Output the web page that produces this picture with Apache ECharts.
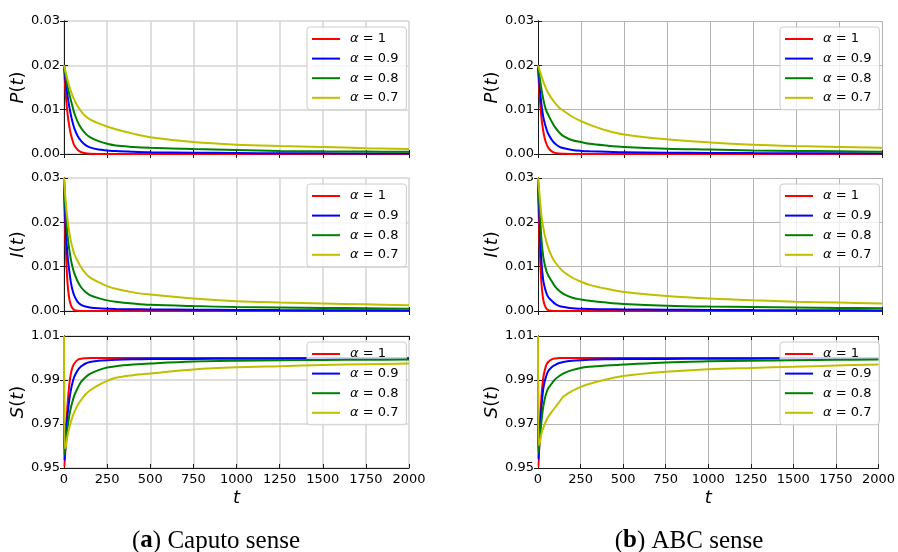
<!DOCTYPE html>
<html><head><meta charset="utf-8">
<script src="https://cdn.jsdelivr.net/npm/echarts@6/dist/echarts.min.js"></script>
<style>html,body{margin:0;padding:0;background:#fff}#c{width:898px;height:552px}</style>
</head><body><div id="c"></div><script>
// ---------- data ----------
const tValues = [0,3,10,20,30,40,50,60,80,100,125,150,200,250,300,400,500,750,1000,1250,1500,1750,2000];
const seriesNames = ['α = 1','α = 0.9','α = 0.8','α = 0.7'];
const seriesColors = ['#ff0000','#0000ff','#008000','#bfbf00'];
const panelCaptions = ['a','b'];
const panelCaptionText = ['Caputo sense','ABC sense'];
const yNames = ['P','I','S'];
const xTickLabels = ['0','250','500','750','1000','1250','1500','1750','2000'];
const pTickLabels = ['0.00','0.01','0.02','0.03'];
const sTickLabels = ['0.95','0.97','0.99','1.01'];

const P_caputo_a1  = [0.02,0.018,0.0135,0.0093,0.0064,0.0044,0.003,0.0019,0.0009,0.0004,0.00015,0.00006,0.00001,0,0,0,0,0,0,0,0,0,0];
const P_caputo_a09 = [0.02,0.019,0.0162,0.0132,0.0108,0.0088,0.0071,0.0058,0.004,0.0029,0.002,0.0015,0.001,0.0008,0.00065,0.0005,0.0004,0.0003,0.00022,0.00018,0.00015,0.00013,0.00012];
const P_caputo_a08 = [0.02,0.0193,0.0175,0.0153,0.0136,0.0121,0.0106,0.0092,0.0072,0.0058,0.0046,0.0038,0.0029,0.0023,0.0019,0.0016,0.0014,0.0011,0.0009,0.0007,0.0006,0.00055,0.0005];
const P_caputo_a07 = [0.02,0.0195,0.0184,0.0168,0.0154,0.0142,0.0131,0.0122,0.0107,0.0096,0.0085,0.0078,0.0069,0.0062,0.0056,0.0046,0.0038,0.0027,0.0021,0.0018,0.0016,0.0013,0.0011];

const P_abc_a1  = [0.02,0.0175,0.0128,0.0082,0.0053,0.0034,0.0022,0.0014,0.0006,0.00025,0.0001,0.00003,0,0,0,0,0,0,0,0,0,0,0];
const P_abc_a09 = [0.02,0.0185,0.0152,0.0112,0.0085,0.0068,0.0055,0.0045,0.0032,0.0023,0.0016,0.0013,0.0009,0.0007,0.0006,0.0005,0.0004,0.0003,0.00025,0.0002,0.00017,0.00015,0.00013];
const P_abc_a08 = [0.02,0.0192,0.0172,0.0146,0.0125,0.0108,0.0096,0.0088,0.0073,0.006,0.0048,0.004,0.0031,0.0027,0.0023,0.0019,0.0016,0.0012,0.001,0.0008,0.0007,0.0006,0.0005];
const P_abc_a07 = [0.02,0.0197,0.0188,0.0176,0.0164,0.0154,0.0145,0.0137,0.0125,0.0115,0.0104,0.0097,0.0084,0.0074,0.0066,0.0053,0.0044,0.0033,0.0026,0.0021,0.0018,0.0016,0.0014];

const I_caputo_a1  = [0.03,0.024,0.0145,0.0065,0.0029,0.0013,0.0006,0.00025,0.00005,0,0,0,0,0,0,0,0,0,0,0,0,0,0];
const I_caputo_a09 = [0.03,0.0255,0.0185,0.0128,0.0092,0.0064,0.0046,0.0034,0.002,0.0014,0.001,0.0008,0.0006,0.0005,0.00045,0.0004,0.00035,0.0003,0.00025,0.0002,0.00018,0.00015,0.00013];
const I_caputo_a08 = [0.03,0.027,0.0222,0.0172,0.014,0.0116,0.0098,0.0085,0.0066,0.0053,0.0043,0.0036,0.0029,0.0024,0.0021,0.0017,0.0014,0.0011,0.0009,0.0008,0.0007,0.0006,0.0005];
const I_caputo_a07 = [0.03,0.028,0.0247,0.0207,0.018,0.0157,0.0142,0.0128,0.0112,0.0098,0.0085,0.0076,0.0065,0.0056,0.005,0.0042,0.0037,0.0028,0.0022,0.0019,0.0017,0.0015,0.0013];

const I_abc_a1  = [0.03,0.0235,0.014,0.0062,0.0027,0.0012,0.0005,0.0002,0.00004,0,0,0,0,0,0,0,0,0,0,0,0,0,0];
const I_abc_a09 = [0.03,0.0262,0.0195,0.0112,0.007,0.0052,0.0039,0.0031,0.0023,0.0016,0.0011,0.0009,0.0006,0.0005,0.00045,0.0004,0.00035,0.0003,0.00025,0.0002,0.00018,0.00015,0.00013];
const I_abc_a08 = [0.03,0.0275,0.0228,0.0162,0.0124,0.0103,0.0089,0.008,0.0067,0.0055,0.0045,0.0038,0.003,0.0026,0.0023,0.0019,0.0016,0.0012,0.001,0.0009,0.0008,0.0007,0.0006];
const I_abc_a07 = [0.03,0.0285,0.0258,0.0215,0.019,0.017,0.0155,0.0142,0.0123,0.011,0.0098,0.0088,0.0075,0.0066,0.0059,0.005,0.0043,0.0034,0.0028,0.0024,0.0021,0.0019,0.0017];

const S_caputo_a1  = [1.01,0.9505,0.962,0.978,0.9875,0.993,0.996,0.9975,0.9992,0.9997,0.9999,1,1,1,1,1,1,1,1,1,1,1,1];
const S_caputo_a09 = [1.01,0.9535,0.962,0.9735,0.9805,0.9855,0.989,0.9915,0.9945,0.9962,0.9975,0.9982,0.9987,0.999,0.9992,0.9994,0.9995,0.9996,0.9997,0.9997,0.9998,0.9998,0.9998];
const S_caputo_a08 = [1.01,0.956,0.961,0.968,0.9735,0.9775,0.9805,0.983,0.9865,0.9893,0.9913,0.9928,0.9945,0.9957,0.9963,0.997,0.9975,0.9984,0.9988,0.999,0.9991,0.9992,0.9993];
const S_caputo_a07 = [1.01,0.959,0.9595,0.9645,0.968,0.971,0.9735,0.9755,0.9787,0.981,0.9835,0.9852,0.9877,0.9896,0.991,0.9922,0.993,0.9948,0.9958,0.9963,0.9968,0.9972,0.9975];

const S_abc_a1  = [1.01,0.9505,0.966,0.982,0.9905,0.9945,0.997,0.9982,0.9994,0.9998,1,1,1,1,1,1,1,1,1,1,1,1,1];
const S_abc_a09 = [1.01,0.954,0.964,0.9775,0.9855,0.9895,0.9922,0.994,0.9958,0.9968,0.9977,0.9982,0.9987,0.999,0.9992,0.9994,0.9995,0.9996,0.9997,0.9997,0.9998,0.9998,0.9998];
const S_abc_a08 = [1.01,0.957,0.963,0.971,0.9775,0.9815,0.9843,0.9862,0.9883,0.9903,0.9918,0.993,0.9945,0.9955,0.996,0.9966,0.997,0.998,0.9985,0.9988,0.999,0.9992,0.9993];
const S_abc_a07 = [1.01,0.9605,0.961,0.9655,0.968,0.97,0.9718,0.9732,0.9755,0.9775,0.98,0.9825,0.985,0.9869,0.9882,0.9902,0.9918,0.9937,0.9949,0.9955,0.996,0.9966,0.9971];

const panels = [
  [[P_caputo_a1,P_caputo_a09,P_caputo_a08,P_caputo_a07],
   [I_caputo_a1,I_caputo_a09,I_caputo_a08,I_caputo_a07],
   [S_caputo_a1,S_caputo_a09,S_caputo_a08,S_caputo_a07]],
  [[P_abc_a1,P_abc_a09,P_abc_a08,P_abc_a07],
   [I_abc_a1,I_abc_a09,I_abc_a08,I_abc_a07],
   [S_abc_a1,S_abc_a09,S_abc_a08,S_abc_a07]]
];

// ---------- layout ----------
const colLeft = [64, 538];
const colWidth = [345, 344];
const rowTop = [21, 178, 336];
const rowHeight = [133, 133, 132];
const gridColor = ['#d4d4d4', '#b4b4b4'];
const gridWidth = [1.5, 1];
const FONT = 'DejaVu Sans';

const grid = [], xAxis = [], yAxis = [], series = [], legend = [];
let gi = 0;
for (let c = 0; c < 2; c++) {
  for (let r = 0; r < 3; r++) {
    grid.push({left: colLeft[c], top: rowTop[r], width: colWidth[c], height: rowHeight[r], containLabel: false});
    const isBottom = r === 2;
    const isS = r === 2;
    const axLine = {show: true, lineStyle: {color: '#1a1a1a', width: 1}};
    const tick = {show: true, inside: true, length: 4, lineStyle: {color: '#1a1a1a', width: 1}};
    const split = {show: true, lineStyle: {color: gridColor[c], width: gridWidth[c]}};
    xAxis.push({
      type: 'value', gridIndex: gi, min: 0, max: 2000, interval: 250, position: 'bottom',
      axisLine: axLine, axisTick: tick, splitLine: split,
      axisLabel: {show: isBottom, margin: 5, color: '#000', fontFamily: FONT, fontSize: 13,
        formatter: v => String(v)},
      name: isBottom ? '{i|t}' : '', nameLocation: 'middle', nameGap: 21,
      nameTextStyle: {rich: {i: {fontStyle: 'italic', fontFamily: FONT, fontSize: 18, color: '#000'}}}
    });
    xAxis.push({
      type: 'value', gridIndex: gi, min: 0, max: 2000, interval: 250, position: 'top',
      axisLine: axLine, axisTick: tick, splitLine: {show: false}, axisLabel: {show: false}
    });
    const yBase = isS
      ? {min: 0.95, max: 1.01}
      : {min: 0, max: 0.03, interval: 0.01};
    const sVals = sTickLabels.map(Number);
    const yLabel = {show: true, margin: 4, color: '#000', fontFamily: FONT, fontSize: 13,
      formatter: v => v.toFixed(2)};
    if (isS) yLabel.customValues = sVals;
    const yTick = Object.assign({}, tick);
    if (isS) yTick.customValues = sVals;
    yAxis.push(Object.assign({
      type: 'value', gridIndex: gi, position: 'left',
      axisLine: axLine, axisTick: yTick, splitLine: split, axisLabel: yLabel,
      name: '{i|' + yNames[r] + '}({i|t})', nameLocation: 'middle', nameGap: 34, nameRotate: 90,
      nameTextStyle: {fontFamily: FONT, fontSize: 18, color: '#000',
        rich: {i: {fontStyle: 'italic', fontFamily: FONT, fontSize: 18, color: '#000'}}}
    }, yBase));
    const yTick2 = Object.assign({}, tick);
    if (isS) yTick2.customValues = sVals;
    yAxis.push(Object.assign({
      type: 'value', gridIndex: gi, position: 'right',
      axisLine: axLine, axisTick: yTick2, splitLine: {show: false}, axisLabel: {show: false}
    }, yBase));

    const vals = panels[c][r];
    const names = [];
    for (let k = 0; k < 4; k++) {
      names.push(seriesNames[k]);
      series.push({
        type: 'line', name: seriesNames[k], xAxisIndex: 2 * gi, yAxisIndex: 2 * gi,
        data: tValues.map((t, j) => [t, vals[k][j]]),
        showSymbol: false, symbol: 'none', smooth: 0.35,
        lineStyle: {color: seriesColors[k], width: 2}, itemStyle: {color: seriesColors[k]},
        clip: true, z: 2 + k, animation: false
      });
    }
    legend.push({
      data: names, orient: 'vertical', icon: 'rect',
      left: colLeft[c] + colWidth[c] - 102, top: rowTop[r] + 6,
      itemWidth: 28, itemHeight: 2, itemGap: 5.6,
      padding: [5, 8, 5, 5],
      backgroundColor: 'rgba(255,255,255,0.8)', borderColor: '#cccccc', borderWidth: 1, borderRadius: 3,
      textStyle: {fontFamily: FONT, fontSize: 13, lineHeight: 14, color: '#000', padding: [0, 0, 0, 5],
        rich: {i: {fontStyle: 'italic', fontFamily: FONT, fontSize: 13, lineHeight: 14, color: '#000'}}},
      formatter: n => '{i|α}' + n.slice(1),
      selectedMode: false
    });
    gi++;
  }
}

const graphic = [0, 1].map(c => ({
  type: 'text', x: [216, 689][c], y: 541,
  style: {
    text: '({b|' + panelCaptions[c] + '}) ' + panelCaptionText[c],
    fontFamily: 'Liberation Serif', fontSize: 25, fill: '#000',
    align: 'center', verticalAlign: 'middle',
    rich: {b: {fontWeight: 'bold', fontFamily: 'Liberation Serif', fontSize: 25, fill: '#000'}}
  }
}));

const chart = echarts.init(document.getElementById('c'), null, {renderer: 'canvas'});
chart.setOption({animation: false, backgroundColor: '#fff', grid, xAxis, yAxis, series, legend, graphic});
</script></body></html>
